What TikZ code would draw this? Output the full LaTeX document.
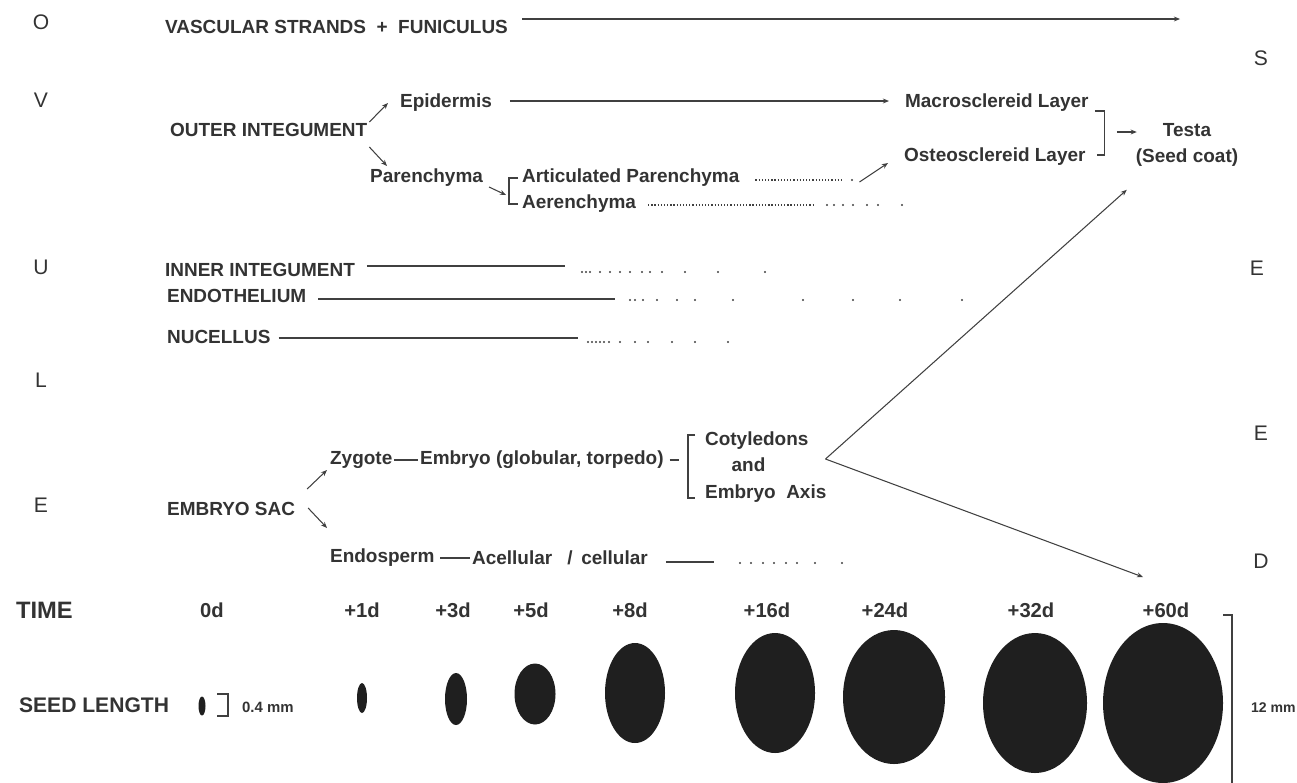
\documentclass[tikz,border=0pt]{standalone}
\usepackage{fontspec}
\setmainfont{Liberation Sans}
\usetikzlibrary{arrows.meta,calc}
\begin{document}
\begin{tikzpicture}[
    x=0.02cm, y=-0.02cm,
    every node/.style={text=black!80, inner sep=1pt},
    lbl/.style={anchor=west, font=\fontsize{10.8}{15}\selectfont\bfseries},
    side/.style={font=\fontsize{12}{14}\selectfont},
    day/.style={font=\fontsize{11.5}{14}\selectfont\bfseries},
    small/.style={anchor=west, font=\fontsize{8.5}{10}\selectfont\bfseries},
    arrow/.style={-{Stealth[length=3.5pt,width=2.8pt]}, line width=0.6pt, draw=black!75},
    plain/.style={line width=0.6pt, draw=black!75},
    fade/.style={line width=0.8pt, draw=black!75, dash pattern=on 0.7pt off 1.1pt},
    speck/.style={fill=black!75},
    seed/.style={fill=black!88}
]
\useasboundingbox (0,0) rectangle (1297,782);

% -------------------------
% Side Letters
% -------------------------
    \node[side] (sO) at (41,22) {O};
    \node[side] (sV) at (41,100) {V};
    \node[side] (sU) at (41,267) {U};
    \node[side] (sL) at (41,380) {L};
    \node[side] (sE) at (41,505) {E};
    \node[side] (rS) at (1261,58) {S};
    \node[side] (rE1) at (1257,268) {E};
    \node[side] (rE2) at (1261,433) {E};
    \node[side] (rD) at (1261,561) {D};

% -------------------------
% Vascular Strands
% -------------------------
    \node[lbl] (vasc) at (163,27) {VASCULAR STRANDS \ + \ FUNICULUS};
    \coordinate (vascend) at (1180,19);
    \draw[arrow] (vasc.east |- vascend) ++(12,0) -- (vascend);

% -------------------------
% Outer Integument
% -------------------------
    \node[lbl] (outer) at (168,130) {OUTER INTEGUMENT};
    \node[lbl] (epid) at (398,103) {Epidermis};
    \node[lbl] (paren) at (368,178) {Parenchyma};
    \node[lbl] (artic) at (520,178) {Articulated Parenchyma};
    \node[lbl] (aeren) at (520,204) {Aerenchyma};
    \node[lbl] (macro) at (903,103) {Macrosclereid Layer};
    \node[lbl] (osteo) at (902,157) {Osteosclereid Layer};
    \node[lbl, anchor=center, align=center] (testa) at (1187,145) {Testa\\(Seed coat)};

    \draw[arrow] ($(outer.east)+(0,-8)$) -- ($(epid.west)+(-10,0)$);
    \draw[arrow] ($(outer.east)+(0,17)$) -- ($(paren.west)+(19,-12)$);
    \draw[arrow] ($(paren.east)+(4,9)$) -- ($(artic.west)+(-14,17)$);
    \draw[plain] ($(artic.west)+(-2,0)$) -- ++(-9,0) |- ($(aeren.west)+(-2,0)$);
    \draw[arrow] ($(epid.east)+(16,-2)$) -- ($(macro.west)+(-14,-2)$);

% Articulated parenchyma fades out, then joins osteosclereid layer
    \draw[fade] ($(artic.east)+(14,2)$) -- ++(86,0);
    \fill[speck] (852,180) circle (0.6pt);
    \draw[arrow] ($(artic.east)+(118,4)$) -- ($(osteo.west)+(-14,6)$);

% Aerenchyma fades out
    \draw[fade] ($(aeren.east)+(10,1)$) -- ++(165,0);
    \foreach \x in {827,834,843,853,867,878,902}
        \fill[speck] (\x,205) circle (0.6pt);

% Layers to testa
    \draw[plain] ($(macro.east)+(4,8)$) -- ++(10,0) coordinate (mobr) |- ($(osteo.east)+(9,-2)$);
    \draw[arrow] ($(mobr)+(12,21)$) -- ($(testa.west)+(3,-13)$);

% -------------------------
% Inner Integument, Endothelium, Nucellus
% -------------------------
    \node[lbl] (inner) at (163,270) {INNER INTEGUMENT};
    \draw[plain] ($(inner.east)+(10,-4)$) -- ++(198,0);
    \foreach \x in {582,586,590,600,610,620,630,642,650,662,685,718,765}
        \fill[speck] (\x,272) circle (0.6pt);

    \node[lbl] (endo) at (165,296) {ENDOTHELIUM};
    \draw[plain] ($(endo.east)+(10,3)$) -- ++(297,0);
    \foreach \x in {630,635,643,657,677,695,733,803,853,900,962}
        \fill[speck] (\x,300) circle (0.6pt);

    \node[lbl] (nuc) at (165,337) {NUCELLUS};
    \draw[plain] ($(nuc.east)+(6,1)$) -- ++(299,0);
    \foreach \x in {588,592,596,600,604,609,620,635,648,672,695,728}
        \fill[speck] (\x,342) circle (0.6pt);

% -------------------------
% Embryo Sac
% -------------------------
    \node[lbl] (sac) at (165,509) {EMBRYO SAC};
    \node[lbl] (zyg) at (328,460) {Zygote};
    \node[lbl] (emb) at (418,460) {Embryo (globular, torpedo)};
    \node[lbl, align=left] (cot) at (703,467) {Cotyledons\\\hspace{1.4em}and\\Embryo\ \ Axis};
    \node[lbl] (endosp) at (328,558) {Endosperm};
    \node[lbl] (acell) at (470,558) {Acellular\hspace{0.8em}/\hspace{0.45em}cellular};

    \draw[arrow] ($(sac.east)+(10,-20)$) -- ($(zyg.west)+(-1,10)$);
    \draw[arrow] ($(sac.east)+(11,-1)$) -- ($(endosp.west)+(-1,-30)$);
    \draw[plain] (zyg) -- (emb);
    \draw[plain] ($(emb.east)+(4,0)$) -- ++(9,0);
    \draw[plain] ($(cot.west)+(-8,-32)$) -- ++(-7,0) |- ($(cot.west)+(-8,31)$);

% Embryo goes to testa and to the seed
    \coordinate (fork) at ($(cot.east)+(-3,-8)$);
    \coordinate (dend) at (1143,577);
    \draw[arrow] (fork) -- ($(testa.south west)+(-7,21)$);
    \draw[arrow] (fork) -- (dend);

% Endosperm fades out
    \draw[plain, shorten <=2pt] (endosp) -- (acell);
    \draw[plain] ($(acell.east)+(16,4)$) -- ++(48,0);
    \foreach \x in {740,751,763,774,786,797,815,842}
        \fill[speck] (\x,563) circle (0.6pt);

% -------------------------
% Time and Seed Length
% -------------------------
    \node[lbl, font=\fontsize{13.5}{16}\selectfont\bfseries] (time) at (14,610) {TIME};
    \node[lbl, font=\fontsize{12}{14}\selectfont\bfseries] (seedlen) at (17,705) {SEED LENGTH};

    \foreach \lab/\x [count=\i] in {0d/212,+1d/362,+3d/453,+5d/531,+8d/630,+16d/767,+24d/885,+32d/1031,+60d/1166}
        \node[day] (day\i) at (\x,610) {\lab};

    \foreach \x/\y/\rx/\ry in {202/706/3.5/9.5,362/698/5/15,456/699/11/26,535/694/20.5/30.5,635/693/30/50,775/693/40/60,894/697/51/67,1035/703/52/70,1163/703/60/80}
        \fill[seed] (\x,\y) ellipse [x radius=0.02cm*\rx, y radius=0.02cm*\ry];

% Scale marks
    \draw[plain] (217,694) -| (228,716) -- (217,716);
    \node[small] (mm04) at (240,707) {0.4 mm};
    \draw[plain] (1223,615) -| (1232,790);
    \node[small, font=\fontsize{8}{10}\selectfont\bfseries] (mm12) at (1249,708) {12 mm};
\end{tikzpicture}
\end{document}
